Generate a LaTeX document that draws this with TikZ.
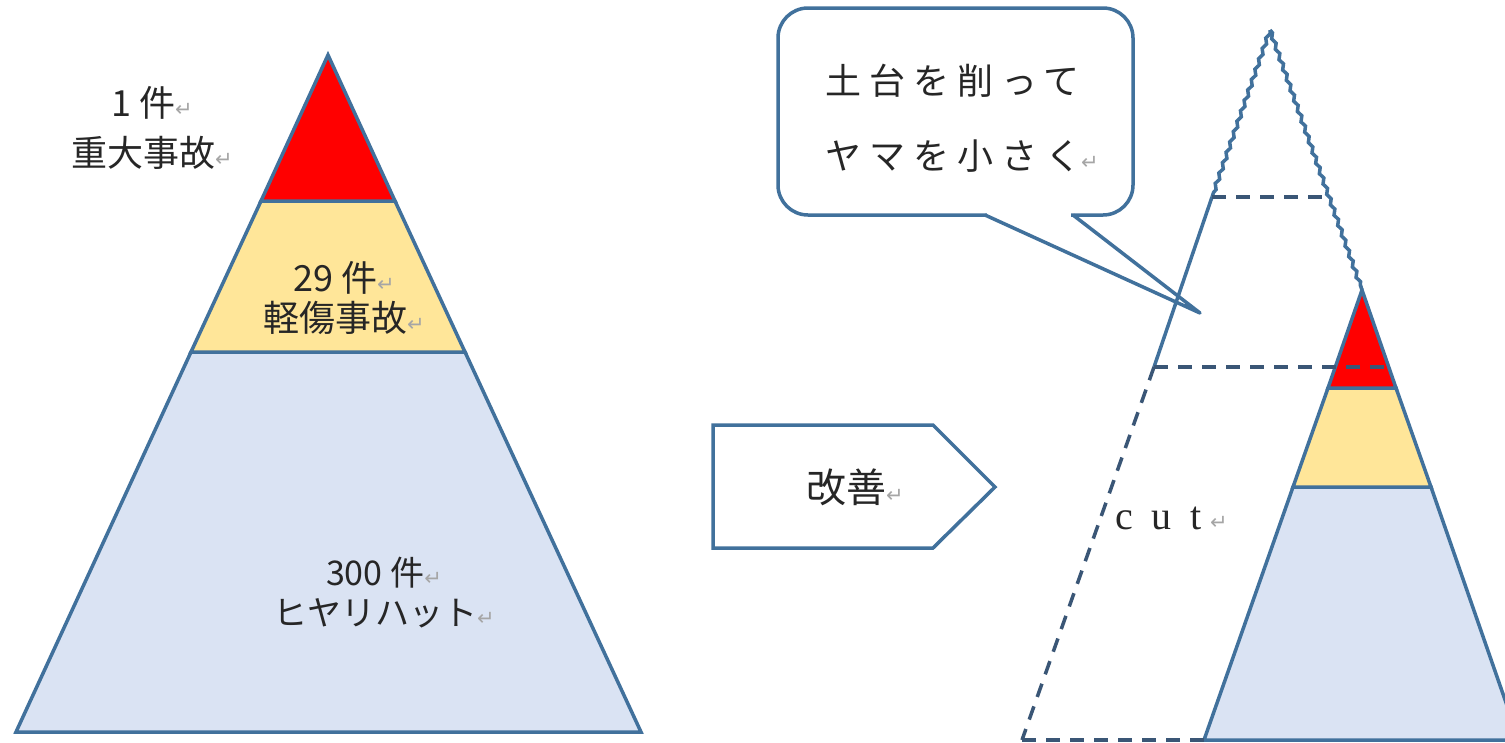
\documentclass[tikz,border=0pt]{standalone}
\usepackage{fontspec}
\usetikzlibrary{decorations.pathmorphing}
\newfontfamily\jp{Noto Sans CJK JP}
\newfontfamily\jpw[LetterSpace=22]{Noto Sans CJK JP}
\newfontfamily\retfont{DejaVu Sans}
\newfontfamily\serfont{Liberation Serif}
\definecolor{edge}{HTML}{41719C}
\definecolor{dashc}{HTML}{3A5676}
\definecolor{topred}{HTML}{FF0000}
\definecolor{midyel}{HTML}{FFE699}
\definecolor{lowblue}{HTML}{DAE3F3}
\definecolor{txt}{HTML}{262626}
\newcommand\rmk{{\retfont\fontsize{21}{21}\selectfont\color{black!35}↵}}
\begin{document}
\begin{tikzpicture}[x=1pt,y=-1pt,
  layer/.style={draw=edge,line width=3.5pt,line join=miter},
  edgeline/.style={draw=edge,line width=3.5pt},
  dashline/.style={draw=dashc,line width=3.5pt,dash pattern=on 14pt off 10pt},
  wavy/.style={draw=edge,line width=3.5pt,decorate,decoration={snake,amplitude=1.4pt,segment length=11pt}},
  lbl/.style={align=center,inner sep=0pt,text=txt}]
\clip (0,0) rectangle (1505,742);
\fill[white] (0,0) rectangle (1505,742);

% ---------- left pyramid ----------
\coordinate (LA) at (328,55);
\coordinate (LRl) at (261,201);
\coordinate (LRr) at (395,201);
\coordinate (LYl) at (191,352);
\coordinate (LYr) at (465,352);
\coordinate (LBl) at (16,732);
\coordinate (LBr) at (641,732);
\filldraw[layer,fill=lowblue] (LYl) -- (LYr) -- (LBr) -- (LBl) -- cycle;
\filldraw[layer,fill=midyel] (LRl) -- (LRr) -- (LYr) -- (LYl) -- cycle;
\filldraw[layer,fill=topred] (LA) -- (LRr) -- (LRl) -- cycle;

\node[lbl,font=\jp\fontsize{36}{50}\selectfont] (l1) at (152,128) {1 件\rmk\\重大事故\rmk};
\node[lbl,font=\jp\fontsize{36}{40}\selectfont] (l29) at (344,298) {29 件\rmk\\軽傷事故\rmk};
\node[lbl,font=\jp\fontsize{34}{40}\selectfont] (l300) at (384,593) {300 件\rmk\\ヒヤリハット\rmk};

% ---------- arrow box ----------
\draw[edgeline,line join=miter] (713,425) -- (933,425) -- (995,487) -- (933,548) -- (713,548) -- cycle;
\node[lbl,font=\jp\fontsize{40}{40}\selectfont] (kz) at (855,487) {改善\rmk};

% ---------- callout ----------
\node[draw=edge,line width=3.5pt,rounded corners=30pt,minimum width=355pt,minimum height=207pt,inner sep=0pt] (call) at (955.5,111.5) {};
\fill[white] (987,211) rectangle (1071,219);
\coordinate (tip) at (1200,313);
\draw[edgeline,line join=round] (985,215) -- (tip) -- (1073,215);
\node[lbl,align=left,font=\jpw\fontsize{36}{75}\selectfont] (calltext) at (962,118) {土台を削って\\ヤマを小さく\rmk};

% ---------- right pyramid ----------
\coordinate (A) at (1270,30);
\coordinate (L1) at (1212,197);
\coordinate (L2) at (1154,367);
\coordinate (LB) at (1022,740);
\coordinate (R1) at (1329,197);
\coordinate (D2) at (1389,367);
\coordinate (N) at (1362,290);
\coordinate (NRl) at (1328,388);
\coordinate (NRr) at (1396,388);
\coordinate (NYl) at (1293,487);
\coordinate (NYr) at (1431,487);
\coordinate (NBl) at (1204,740);
\coordinate (NBr) at (1519,740);
\filldraw[layer,fill=lowblue] (NYl) -- (NYr) -- (NBr) -- (NBl) -- cycle;
\filldraw[layer,fill=midyel] (NRl) -- (NRr) -- (NYr) -- (NYl) -- cycle;
\filldraw[layer,fill=topred] (N) -- (NRr) -- (NRl) -- cycle;

\draw[wavy] (A) -- (N);
\draw[wavy] (A) -- (L1);
\draw[edgeline] (L1) -- (L2);
\draw[dashline] (L2) -- (LB);
\draw[dashline] (LB) -- (NBl);
\draw[dashline] (L1) -- (R1);
\draw[dashline] (L2) -- (D2);

\node[anchor=west,inner sep=0pt,text=txt,font=\serfont\fontsize{40}{40}\selectfont] (cut) at (1115,518) {c\hspace{19pt}u\hspace{19pt}t\hspace{8pt}\rmk};
\end{tikzpicture}
\end{document}
